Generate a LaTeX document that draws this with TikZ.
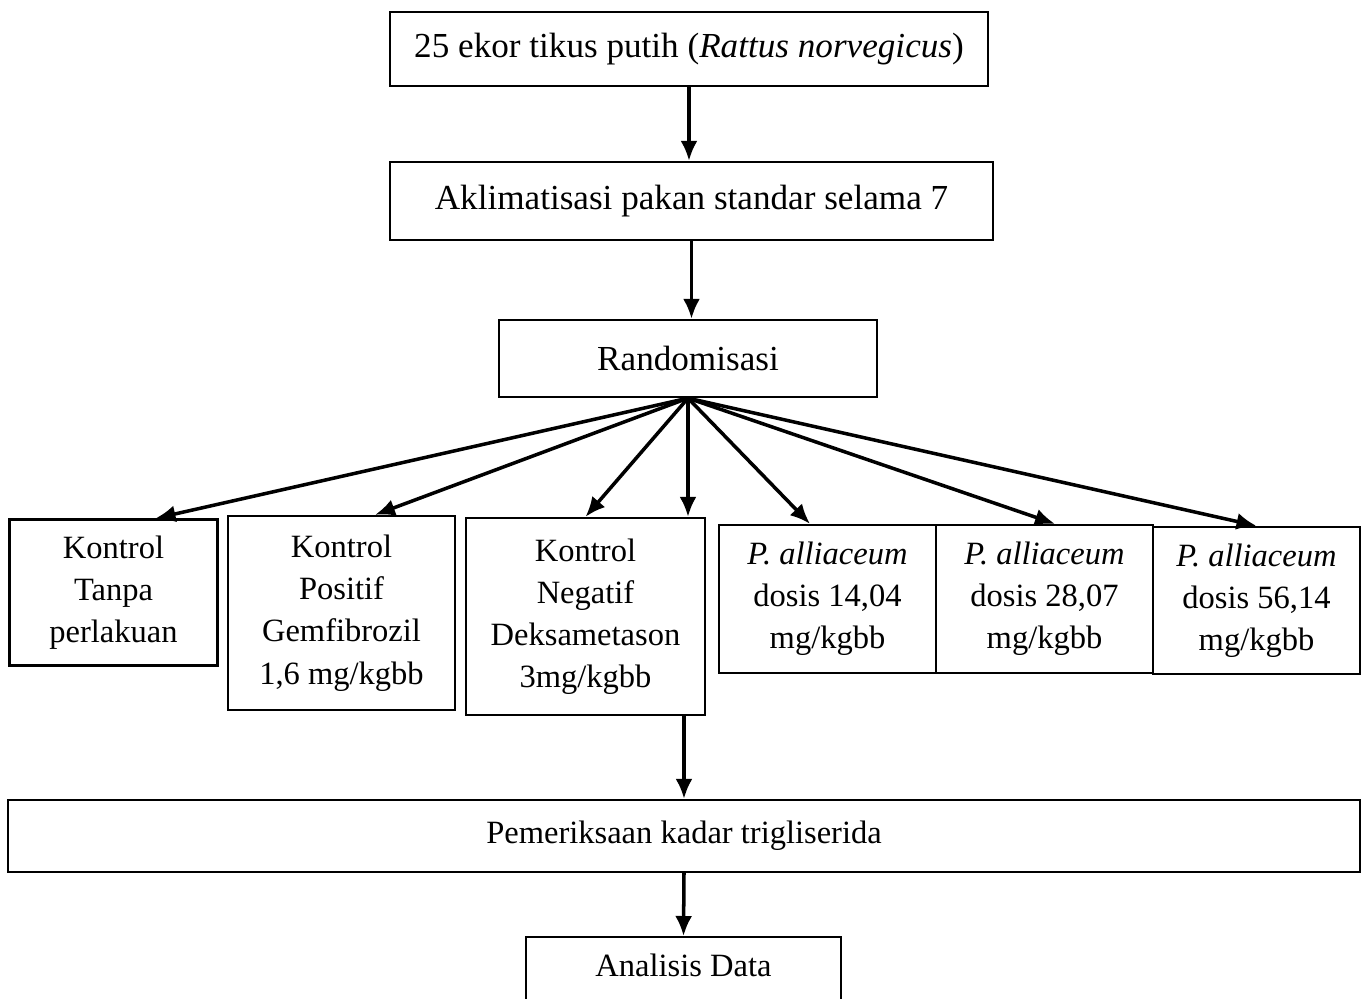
\documentclass[tikz,border=0pt]{standalone}
\usepackage{fontspec}
\setmainfont{Liberation Serif}
\usetikzlibrary{arrows.meta,calc}
\begin{document}
\begin{tikzpicture}[box/.style={rectangle,draw,line width=1.3pt,align=center,inner sep=0mm,font=\fontsize{18.5}{24}\selectfont},
	big/.style={font=\fontsize{20}{24}\selectfont},
	arr/.style={-{Latex[length=4mm,width=3.4mm]},line width=2pt}]
	\useasboundingbox (0,0) rectangle (27.24,-19.96);
	\node (T1) [box,big,minimum width=11.96cm,minimum height=1.48cm] at (13.78,-0.98) {25 ekor tikus putih (\textit{Rattus norvegicus})};
	\node (T2) [box,big,minimum width=12.06cm,minimum height=1.56cm] at (13.83,-4.02) {Aklimatisasi pakan standar selama 7};
	\node (R) [box,big,minimum width=7.56cm,minimum height=1.54cm] at (13.76,-7.17) {Randomisasi};

	\node (B1) [box,minimum width=4.16cm,minimum height=2.92cm] at (2.27,-11.85) {Kontrol\\Tanpa\\perlakuan};
	\node (B2) [box,minimum width=4.54cm,minimum height=3.88cm] at (6.83,-12.26) {Kontrol\\Positif\\Gemfibrozil\\1,6 mg/kgbb};
	\node (B3) [box,minimum width=4.78cm,minimum height=3.94cm] at (11.71,-12.33) {Kontrol\\Negatif\\Deksametason\\3mg/kgbb};
	\node (B4) [box,minimum width=4.34cm,minimum height=2.96cm] at (16.55,-11.98) {\textit{P. alliaceum}\\dosis 14,04\\mg/kgbb};
	\node (B5) [box,minimum width=4.34cm,minimum height=2.96cm] at (20.89,-11.98) {\textit{P. alliaceum}\\dosis 28,07\\mg/kgbb};
	\node (B6) [box,minimum width=4.14cm,minimum height=2.94cm] at (25.13,-12.01) {\textit{P. alliaceum}\\dosis 56,14\\mg/kgbb};

	\node (P) [box,minimum width=27.04cm,minimum height=1.44cm] at (13.68,-16.72) {Pemeriksaan kadar trigliserida};
	\node (AD) [box,anchor=north,minimum width=6.3cm,text height=0.78cm,text depth=0.7cm] at (13.67,-18.72) {Analisis Data};

	\draw [arr] (T1.south) -- (T1.south |- T2.north);
	\draw [arr] (T2.south) -- (T2.south |- R.north);
	% fan from Randomisasi
	\draw [arr] (R.south) -- ($(B1.north)+(0.84,0)$);
	\draw [arr] (R.south) -- ($(B2.north)+(0.67,0)$);
	\draw [arr] (R.south) -- (B3.north);
	\draw [arr] (R.south) -- ($(B3.north)+(2.05,0)$);
	\draw [arr] (R.south) -- ($(B4.north)+(-0.35,0)$);
	\draw [arr] (R.south) -- ($(B5.north)+(0.21,0)$);
	\draw [arr] (R.south) -- (B6.north);

	\draw [arr] (B3.south -| P.north) -- (P.north);
	\draw [arr] (P.south) -- (AD.north);
\end{tikzpicture}
\end{document}
